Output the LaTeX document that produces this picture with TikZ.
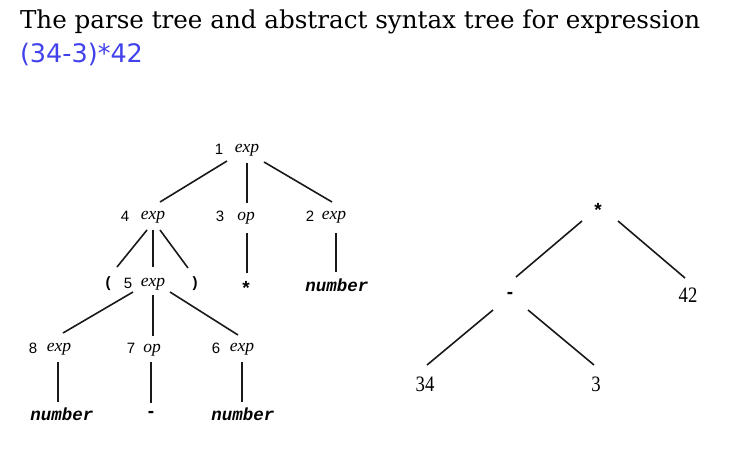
\documentclass[tikz,border=0pt]{standalone}
\usepackage{fontspec}
\setmainfont{DejaVu Serif}
\newfontfamily\titlefont{DejaVu Serif}
\newfontfamily\exprfont{DejaVu Sans}
\newfontfamily\digitfont{Liberation Sans}
\newfontfamily\catfont{Liberation Serif}
\newfontfamily\tokfont{Liberation Mono}
\newfontfamily\astfont{Liberation Serif}
\definecolor{exprblue}{RGB}{66,66,236}
\tikzset{
  every node/.style={inner sep=0pt, outer sep=0pt},
  edge/.style={line width=1.6pt, black!90},
  num/.style={font=\digitfont\fontsize{15}{15}\selectfont},
  cat/.style={font=\catfont\itshape\fontsize{17.5}{17.5}\selectfont},
  tok/.style={font=\tokfont\bfseries\itshape\fontsize{17.5}{17.5}\selectfont},
  punct/.style={font=\digitfont\bfseries\fontsize{15}{15}\selectfont},
  sym/.style={font=\digitfont\bfseries\fontsize{19}{19}\selectfont},
  ast/.style={font=\astfont\fontsize{22}{22}\selectfont, xscale=.85, transform shape},
}
\begin{document}
\begin{tikzpicture}[x=1pt,y=-1pt]
\useasboundingbox (0,0) rectangle (733,468);

% heading
\node[anchor=base west, font=\titlefont\fontsize{24.6}{24.6}\selectfont] (title) at (20,29)
  {The parse tree and abstract syntax tree for expression};
\node[anchor=base west, text=exprblue, font=\exprfont\fontsize{25.5}{25.5}\selectfont] (expr) at (20,62.5)
  {(34-3)*42};

% parse tree: numbered non-terminals
\node[num] (d1) at (219,149) {1};  \node[cat] (c1) at (247,150) {exp};
\node[num] (d4) at (125,216) {4};  \node[cat] (c4) at (153,217) {exp};
\node[num] (d3) at (220,216) {3};  \node[cat] (c3) at (246,218) {op};
\node[num] (d2) at (310,216) {2};  \node[cat] (c2) at (334,217) {exp};
\node[punct] (lp) at (108,284) {(};
\node[num] (d5) at (128,283) {5};  \node[cat] (c5) at (153,284) {exp};
\node[punct] (rp) at (195,284) {)};
\node[sym] (star) at (246,288) {*};
\node[tok] (num2) at (337,285) {number};
\node[num] (d8) at (33,348) {8};   \node[cat] (c8) at (59,349) {exp};
\node[num] (d7) at (131,348) {7};  \node[cat] (c7) at (152,350) {op};
\node[num] (d6) at (216,348) {6};  \node[cat] (c6) at (242,349) {exp};
\node[tok] (num8) at (62,414) {number};
\node[sym] (minus) at (151,414) {-};
\node[tok] (num6) at (243,414) {number};

% parse tree: edges
\draw[edge] ([shift={(-20,11)}]c1.center) -- ([shift={(7,-15)}]c4.center);
\draw[edge] ([shift={(0,13)}]c1.center)   -- ([shift={(1,-15)}]c3.center);
\draw[edge] ([shift={(17,12)}]c1.center)  -- ([shift={(-2,-15)}]c2.center);
\draw[edge] ([shift={(-6,13)}]c4.center)  -- ([shift={(9,-17)}]lp.center);
\draw[edge] ([shift={(0,13)}]c4.center)   -- ([shift={(0,-17)}]c5.center);
\draw[edge] ([shift={(7,13)}]c4.center)   -- ([shift={(-7,-16)}]rp.center);
\draw[edge] ([shift={(1,15)}]c3.center)   -- ([shift={(1,-15)}]star.center);
\draw[edge] ([shift={(2,16)}]c2.center)   -- ([shift={(-1,-13)}]num2.center);
\draw[edge] ([shift={(-20,8)}]c5.center)  -- ([shift={(4,-16)}]c8.center);
\draw[edge] ([shift={(0,11)}]c5.center)   -- ([shift={(1,-14)}]c7.center);
\draw[edge] ([shift={(17,8)}]c5.center)   -- ([shift={(-4,-14)}]c6.center);
\draw[edge] ([shift={(-1,13)}]c8.center)  -- ([shift={(-4,-12)}]num8.center);
\draw[edge] ([shift={(-1,12)}]c7.center)  -- ([shift={(0,-11)}]minus.center);
\draw[edge] ([shift={(0,13)}]c6.center)   -- ([shift={(-1,-12)}]num6.center);

% abstract syntax tree
\node[sym] (s) at (598,210) {*};
\node[sym] (m) at (510,295) {-};
\node[ast] (f) at (688,295) {42};
\node[ast] (t) at (425,384) {34};
\node[ast] (h) at (596,384) {3};
\draw[edge] ([shift={(-16,11)}]s.center) -- ([shift={(6,-18)}]m.center);
\draw[edge] ([shift={(20,11)}]s.center)  -- ([shift={(-3,-17)}]f.center);
\draw[edge] ([shift={(-17,15)}]m.center) -- ([shift={(2,-19)}]t.center);
\draw[edge] ([shift={(18,15)}]m.center)  -- ([shift={(-2,-19)}]h.center);
\end{tikzpicture}
\end{document}
